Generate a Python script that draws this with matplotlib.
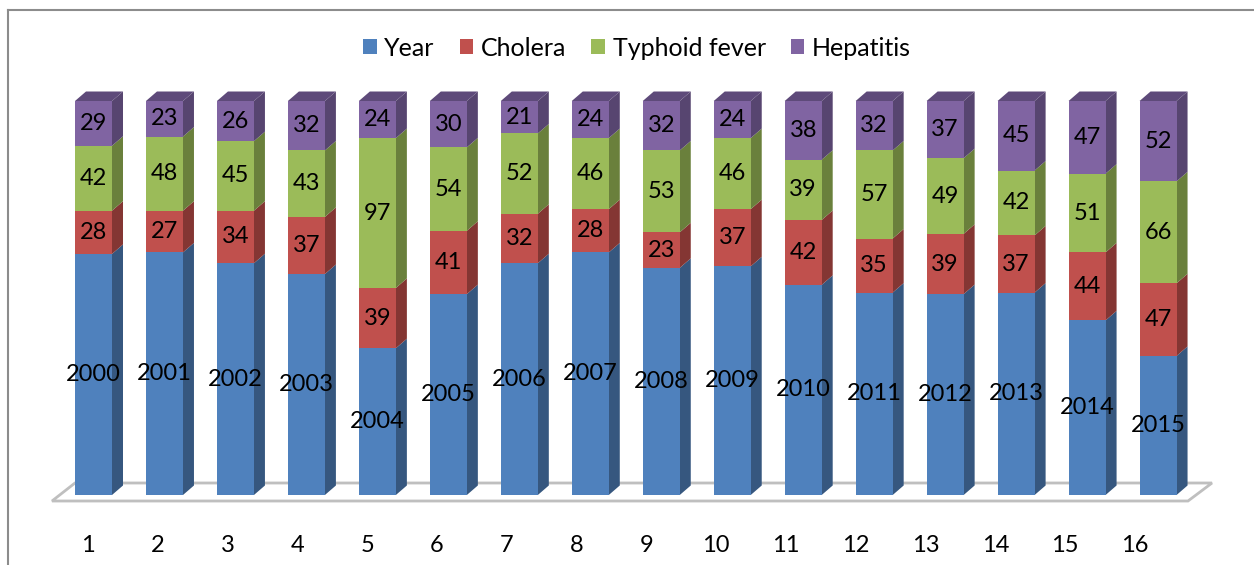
import matplotlib
matplotlib.use("Agg")
from matplotlib import pyplot as plt
from matplotlib.patches import Polygon, Patch
from matplotlib.lines import Line2D
import numpy as np

plt.rcParams['font.family'] = ['Lato', 'DejaVu Sans']

# data
idx = list(range(1, 17))
years = [2000, 2001, 2002, 2003, 2004, 2005, 2006, 2007,
         2008, 2009, 2010, 2011, 2012, 2013, 2014, 2015]
cholera = [28, 27, 34, 37, 39, 41, 32, 28, 23, 37, 42, 35, 39, 37, 44, 47]
typhoid = [42, 48, 45, 43, 97, 54, 52, 46, 53, 46, 39, 57, 49, 42, 51, 66]
hepatitis = [29, 23, 26, 32, 24, 30, 21, 24, 32, 24, 38, 32, 37, 45, 47, 52]
names = ['Year', 'Cholera', 'Typhoid fever', 'Hepatitis']

# every column ends at the same height, the Year part fills what is left
TOTAL = 255
year_part = [TOTAL - c - t - h for c, t, h in zip(cholera, typhoid, hepatitis)]

front = ['#4F81BD', '#C0504D', '#9BBB59', '#8064A2']
side = ['#36577F', '#843633', '#6A803C', '#574570']
top = ['#5B7DA8', '#A04440', '#84A04A', '#5E4A7A']

W, H = 1254, 565
fig = plt.figure(figsize=(W / 100, H / 100), dpi=100)
ax = fig.add_axes([0, 0, 1, 1])

# pixel -> data mapping
px_x = 70.97   # px per bar
px_y = 394.0 / TOTAL
x0_px, y0_px = 93.5, 495.0
ax.set_xlim(1 - x0_px / px_x, 1 + (W - x0_px) / px_x)
ax.set_ylim(-(H - y0_px) / px_y, TOTAL + 101 / px_y)
ax.axis('off')

bw = 37 / px_x
dx = 11 / px_x
dy = 9.5 / px_y

# floor
fx = lambda p: 1 + (p - x0_px) / px_x
fy = lambda p: (y0_px - p) / px_y
floor = Polygon([(fx(52), fy(501)), (fx(1188), fy(501)), (fx(1212), fy(483)), (fx(75), fy(483))],
                closed=True, facecolor='white', edgecolor='#BFBFBF', lw=2.0, zorder=1)
ax.add_patch(floor)

series = [year_part, cholera, typhoid, hepatitis]
labels = [years, cholera, typhoid, hepatitis]
bottom = np.zeros(len(idx))
for k, vals in enumerate(series):
    vals = np.array(vals, dtype=float)
    ax.bar(idx, vals, bw, bottom=bottom, color=front[k], zorder=3, linewidth=0)
    for i, x in enumerate(idx):
        b, t = bottom[i], bottom[i] + vals[i]
        xr = x + bw / 2
        ax.add_patch(Polygon([(xr, b), (xr + dx, b + dy), (xr + dx, t + dy), (xr, t)],
                             closed=True, facecolor=side[k], edgecolor='none', zorder=2))
        if k == len(series) - 1:
            xl = x - bw / 2
            ax.add_patch(Polygon([(xl, t), (xl + dx, t + dy), (xr + dx, t + dy), (xr, t)],
                                 closed=True, facecolor=top[k], edgecolor='none', zorder=2))
        ax.text(x, b + vals[i] / 2, str(labels[k][i]), ha='center', va='center',
                fontsize=17, color='black', zorder=5)
    bottom += vals

# category labels under the floor
for i, x in enumerate(idx):
    lx = fx(88 + 69.8 * i)
    ax.text(lx, fy(545), str(x), ha='center', va='center', fontsize=17)

handles = [Patch(facecolor=c, edgecolor='none') for c in front]
fig.legend(handles, names, loc='center', bbox_to_anchor=(637 / W, 1 - 48 / H), ncol=4,
           frameon=False, fontsize=18, handlelength=0.55, handleheight=0.55,
           handletextpad=0.3, columnspacing=1.0)

# chart frame
fig.add_artist(Line2D([8 / W, 8 / W], [0, 1 - 10 / H], color='#8C8C8C', lw=1.5))
fig.add_artist(Line2D([8 / W, 1], [1 - 10 / H, 1 - 10 / H], color='#8C8C8C', lw=1.5))

fig.savefig('out.png', dpi=100)
